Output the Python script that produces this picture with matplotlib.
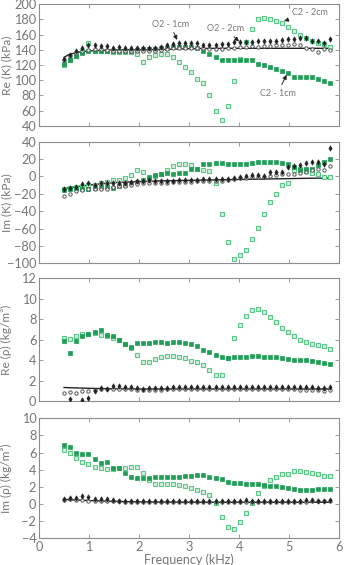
import matplotlib
matplotlib.use("Agg")
import matplotlib.pyplot as plt
import numpy as np

plt.rcParams['font.family'] = ['Lato', 'DejaVu Sans']

# frequencies of the measured points (kHz)
freq = [0.50, 0.62, 0.74, 0.86, 0.98, 1.11, 1.23, 1.35, 1.47, 1.59,
        1.71, 1.83, 1.95, 2.07, 2.19, 2.32, 2.44, 2.56, 2.68, 2.80,
        2.92, 3.04, 3.16, 3.28, 3.40, 3.53, 3.65, 3.77, 3.89, 4.01,
        4.13, 4.25, 4.37, 4.49, 4.61, 4.74, 4.86, 4.98, 5.10, 5.22,
        5.34, 5.46, 5.58, 5.70, 5.82]

# model curve frequencies
model_freq = [0.5, 0.6, 0.8, 1.0, 1.5, 2.0, 2.5, 3.0, 3.5, 4.0, 4.5, 5.0, 5.5, 5.8]

# --- Re(K) kPa ---
reK_o1 = [128, 133, 139, 142, 146, 146, 145, 145, 142, 144, 143, 142, 142, 142, 142,
          143, 144, 147, 148, 149, 149, 149, 149, 147, 147, 147, 148, 148, 150, 150,
          150, 150, 151, 151, 152, 152, 153, 154, 154, 155, 155, 152, 151, 149, 154]
reK_o2 = [127, 132, 136, 139, 140, 141, 141, 140, 139, 139, 138, 138, 138, 138, 138,
          139, 140, 141, 142, 142, 142, 142, 142, 142, 141, 141, 141, 142, 143, 144,
          144, 145, 144, 145, 145, 146, 146, 147, 148, 147, 143, 141, 137, 141, 140]
reK_c1 = [121, 127, 132, 136, 139, 139, 139, 138, 138, 138, 139, 139, 140, 141, 141,
          141, 142, 143, 144, 144, 144, 144, 142, 139, 135, 131, 127, 126, 126, 126,
          126, 126, 121, 120, 118, 115, 112, 109, 104, 104, 104, 104, 101, 99, 96]
reK_c2 = [120, 126, 132, 138, 149, 139, 139, 138, 137, 137, 137, 137, 134, 124, 131,
          133, 134, 134, 131, 124, 118, 111, 101, 96, 81, 60, 48, 66, 99, 128,
          150, 167, 180, 182, 181, 178, 175, 170, 165, 159, 155, 152, 149, 148, 144]
reK_model = [130, 134, 137, 138.5, 140, 140, 140.5, 141.5, 142, 142, 142, 142, 142, 142]

# --- Im(K) kPa ---
imK_o1 = [-14, -13, -12, -9, -7, -10, -8, -7, -7, -7, -7, -6, -5, -5, -4,
          -5, -5, -5, -5, -4, -4, -4, -4, -3, -3, -3, -3, -3, -2, -1,
          0, 2, 2, 1, 5, 5, 5, 11, 12, 13, 15, 17, 17, 14, 33]
imK_o2 = [-23, -20, -17, -16, -14, -14, -15, -15, -12, -11, -11, -10, -9, -8, -7,
          -7, -7, -7, -6, -6, -6, -6, -5, -5, -5, -5, -5, -4, -3, -2,
          -2, -1, -1, -1, 1, 2, 3, 3, 3, 4, 5, 7, 8, 7, 12]
imK_c1 = [-16, -14, -14, -15, -15, -13, -12, -12, -13, -11, -10, -7, -6, -4, -1,
          2, 2.5, 3.5, 2.5, 4, 4, 8, 8, 14, 14, 16, 15, 14, 14, 14,
          14, 16, 17, 17, 17, 17, 16, 14, 11, 7, 8, 9, 13, 17, 20]
imK_c2 = [-15, -13, -12, -12, -10, -10, -8, -6, -4, -4, -2, 2, 7, 5, -3,
          1, 3, 7, 12, 14, 14, 13, 8, 7, 6, -8, -43, -75, -95, -91,
          -85, -72, -59, -43, -29, -20, -10, -7, 7, 8, 6, 4, 3, -1, -1]
imK_model = [-14, -13, -11.5, -10, -7, -6, -5, -4.5, -4, -3.5, -3, -2.5, -2, -2]

# --- Re(rho) kg/m3 ---
rerho_o1 = [np.nan, 0.2, np.nan, 0.13, 0.3, 1.05, 1.3, 1.25, 1.45, 1.45, 1.35, 1.35, 1.3, 1.25, 1.3,
            1.3, 1.3, 1.3, 1.35, 1.35, 1.4, 1.4, 1.4, 1.4, 1.4, 1.35, 1.35, 1.35, 1.35, 1.35,
            1.35, 1.35, 1.35, 1.35, 1.35, 1.35, 1.35, 1.35, 1.35, 1.35, 1.35, 1.35, 1.3, 1.3, 1.35]
rerho_o2 = [0.8, 0.95, 0.85, 1.0, 1.05, 1.1, 1.2, 1.2, 1.2, 1.2, 1.2, 1.2, 1.15, 1.15, 1.15,
            1.15, 1.15, 1.2, 1.2, 1.2, 1.2, 1.2, 1.2, 1.2, 1.2, 1.2, 1.2, 1.2, 1.2, 1.2,
            1.2, 1.2, 1.2, 1.2, 1.2, 1.2, 1.2, 1.2, 1.2, 1.15, 1.15, 1.15, 1.1, 1.05, 1.1]
rerho_c1 = [5.9, 4.7, 5.9, 6.4, 6.6, 6.8, 6.95, 6.5, 6.4, 6.0, 5.6, 5.3, 5.7, 5.7, 5.65,
            5.8, 5.8, 5.7, 5.8, 5.8, 5.65, 5.6, 5.4, 5.0, 4.8, 4.55, 4.3, 4.25, 4.35, 4.35,
            4.35, 4.4, 4.4, 4.35, 4.35, 4.3, 4.25, 4.15, 4.0, 4.0, 4.0, 3.95, 3.85, 3.7, 3.6]
rerho_c2 = [6.2, 6.1, 6.4, 6.55, 6.55, 6.7, 6.5, 6.4, 6.15, 6.0, 5.6, 5.2, 4.5, 3.8, 3.85,
            4.1, 4.35, 4.45, 4.45, 4.35, 4.2, 3.95, 3.8, 3.55, 3.1, 2.55, 2.6, 4.2, 6.2, 7.4,
            8.3, 8.9, 9.05, 8.7, 8.2, 7.7, 7.2, 6.8, 6.4, 6.0, 5.8, 5.6, 5.5, 5.35, 5.1]
rerho_model = [1.35, 1.33, 1.3, 1.27, 1.22, 1.2, 1.2, 1.2, 1.2, 1.2, 1.2, 1.2, 1.2, 1.2]

# --- Im(rho) kg/m3 ---
imrho_o1 = [0.6, 0.75, 0.75, 0.95, 0.85, 0.6, 0.6, 0.55, 0.45, 0.4, 0.4, 0.35, 0.35, 0.35, 0.35,
            0.35, 0.35, 0.35, 0.35, 0.35, 0.35, 0.35, 0.35, 0.35, 0.35, 0.35, 0.35, 0.35, 0.35, 0.35,
            0.45, 0.4, 0.4, 0.4, 0.4, 0.4, 0.4, 0.4, 0.4, 0.4, 0.45, 0.45, 0.4, 0.4, 0.45]
imrho_o2 = [0.5, 0.55, 0.5, 0.45, 0.4, 0.35, 0.35, 0.3, 0.3, 0.3, 0.25, 0.25, 0.25, 0.25, 0.25,
            0.25, 0.25, 0.25, 0.25, 0.25, 0.25, 0.25, 0.25, 0.25, 0.25, 0.25, 0.25, 0.25, 0.25, 0.25,
            0.25, 0.25, 0.25, 0.25, 0.25, 0.25, 0.25, 0.25, 0.25, 0.25, 0.25, 0.3, 0.3, 0.3, 0.3]
imrho_c1 = [6.9, 6.6, 6.0, 5.8, 5.85, 5.2, 4.8, 4.85, 4.15, 4.15, 3.6, 3.2, 3.0, 3.0, 3.0,
            3.1, 3.1, 3.1, 3.2, 3.2, 3.3, 3.3, 3.4, 3.4, 3.2, 3.0, 2.9, 2.6, 2.5, 2.4,
            2.35, 2.3, 2.3, 2.2, 2.1, 2.1, 2.0, 1.9, 1.7, 1.6, 1.6, 1.6, 1.7, 1.7, 1.7]
imrho_c2 = [6.3, 5.9, 5.35, 4.95, 4.7, 4.35, 4.15, 4.05, 4.1, 4.15, 4.15, 4.35, 4.3, 3.6, 2.8,
            2.35, 2.35, 2.35, 2.35, 2.2, 2.1, 1.9, 1.65, 1.45, 1.05, 0.1, -1.5, -2.7, -2.95, -2.05,
            -1.1, 0.1, 1.25, 2.1, 2.8, 3.2, 3.5, 3.5, 3.8, 3.8, 3.7, 3.6, 3.45, 3.3, 3.3]
imrho_model = [0.55, 0.5, 0.45, 0.4, 0.3, 0.25, 0.22, 0.2, 0.2, 0.2, 0.2, 0.2, 0.2, 0.2]

panels = [
    ("Re (K) (kPa)", reK_o1, reK_o2, reK_c1, reK_c2, reK_model, (40, 200), np.arange(40, 201, 20)),
    ("Im (K) (kPa)", imK_o1, imK_o2, imK_c1, imK_c2, imK_model, (-100, 40), np.arange(-100, 41, 20)),
    ("Re (\u03c1) (kg/m\u00b3)", rerho_o1, rerho_o2, rerho_c1, rerho_c2, rerho_model, (0, 12), np.arange(0, 13, 2)),
    ("Im (\u03c1) (kg/m\u00b3)", imrho_o1, imrho_o2, imrho_c1, imrho_c2, imrho_model, (-4, 10), np.arange(-4, 11, 2)),
]

# axes boxes in figure fraction (left, bottom, width, height)
boxes = [
    (0.113, 0.7775, 0.867, 0.2149),
    (0.113, 0.5340, 0.867, 0.2152),
    (0.113, 0.2897, 0.867, 0.2177),
    (0.113, 0.0473, 0.867, 0.2123),
]

GREEN = '#1f9e55'
LGREEN = '#5cc888'
FRAME = '#8c8c8c'
TXT = '#777777'

fig = plt.figure(figsize=(3.46, 5.65), dpi=100)

axes = []
for k, (ylab, o1, o2, c1, c2, model, ylim, yticks) in enumerate(panels):
    ax = fig.add_axes(boxes[k])
    ax.plot(model_freq, model, color='#222222', lw=1.0, zorder=2)
    ax.plot(freq, c2, ls='none', marker='s', ms=2.4, mfc='#d2f0dd', mec=LGREEN, mew=0.8, zorder=3)
    ax.plot(freq, c1, ls='none', marker='s', ms=2.4, mfc=GREEN, mec=GREEN, mew=0.5, zorder=3)
    ax.plot(freq, o2, ls='none', marker='o', ms=2.4, mfc='white', mec='#555555', mew=0.7, zorder=4)
    ax.plot(freq, o1, ls='none', marker='d', ms=2.8, mfc='#222222', mec='#222222', mew=0.4, zorder=5)
    ax.set_xlim(0, 6)
    ax.set_ylim(*ylim)
    ax.set_yticks(yticks)
    ax.set_xticks(range(0, 7))
    ax.tick_params(direction='in', top=True, right=True, length=3, width=0.6,
                   colors=FRAME, labelcolor=TXT, labelsize=9.2, pad=2)
    for s in ax.spines.values():
        s.set_color(FRAME)
        s.set_linewidth(0.8)
    ax.set_ylabel(ylab, color=TXT, fontsize=8.6, labelpad=1)
    ax.yaxis.set_label_coords(-0.09, 0.5)
    if k < 3:
        ax.set_xticklabels([])
    axes.append(ax)

axes[3].set_xlabel("Frequency (kHz)", color=TXT, fontsize=9, labelpad=0)

# labels on the Re(K) panel
arrow = dict(arrowstyle='-|>', color='#222222', lw=0.7, mutation_scale=6, shrinkA=1, shrinkB=0)
a0 = axes[0]
a0.annotate("O2 - 1cm", xy=(2.76, 153), xytext=(2.62, 174), ha='center', va='center',
            fontsize=6.5, color=TXT, arrowprops=arrow)
a0.annotate("O2 - 2cm", xy=(4.0, 151), xytext=(3.72, 168), ha='center', va='center',
            fontsize=6.5, color=TXT, arrowprops=arrow)
a0.annotate("C2 - 2cm", xy=(4.9, 178), xytext=(5.42, 189), ha='center', va='center',
            fontsize=6.5, color=TXT, arrowprops=arrow)
a0.annotate("C2 - 1cm", xy=(4.95, 107), xytext=(4.77, 83), ha='center', va='center',
            fontsize=6.5, color=TXT, arrowprops=arrow)

fig.savefig("out.png", dpi=100)
